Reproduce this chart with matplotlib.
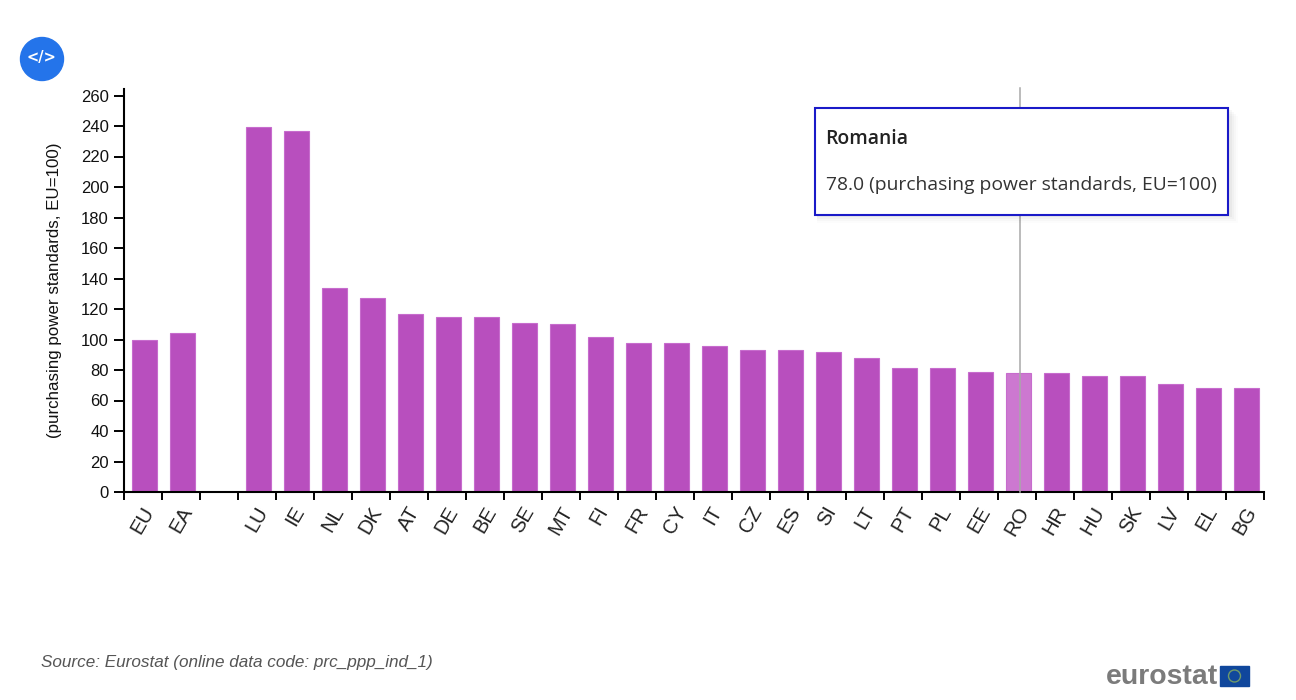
import matplotlib
matplotlib.use("Agg")
import matplotlib.pyplot as plt
from matplotlib.patches import Rectangle, Circle

W, H = 1296, 700

# data
codes = ["EU", "EA", "", "LU", "IE", "NL", "DK", "AT", "DE", "BE", "SE", "MT", "FI", "FR", "CY",
         "IT", "CZ", "ES", "SI", "LT", "PT", "PL", "EE", "RO", "HR", "HU", "SK", "LV", "EL", "BG"]
values = [100, 104, 0, 239.5, 237, 134, 127, 117, 115, 115, 110.5, 110, 101.5, 98, 98,
          96, 93, 93, 92, 88, 81.5, 81.5, 79, 78, 78, 76, 76, 71, 68, 68]
y_ticks = list(range(0, 261, 20))
highlight = "RO"
tip_title = "Romania"
tip_text = "78.0 (purchasing power standards, EU=100)"
y_title = "(purchasing power standards, EU=100)"
source = "Source: Eurostat (online data code: prc_ppp_ind_1)"


def px(x, y):
    # page pixels to figure fraction
    return x / W, 1 - y / H


plt.rcParams["font.family"] = ["Liberation Sans", "DejaVu Sans"]
fig = plt.figure(figsize=(W / 100, H / 100), dpi=100)

# plot area
left, right, top, bottom = 124, 1264, 89, 492
ax = fig.add_axes([left / W, 1 - bottom / H, (right - left) / W, (bottom - top) / H])

for i, (c, v) in enumerate(zip(codes, values)):
    if c == "":
        continue
    col = "#cc78d0" if c == highlight else "#b84fbe"
    ax.bar(i + 0.55, v, width=0.66, color=col, edgecolor="#c76ccd", linewidth=0.8, zorder=2)

ax.set_xlim(0, len(codes))
ax.set_ylim(0, (bottom - top) / 1.525)
ax.set_yticks(y_ticks)
ax.set_xticks(range(len(codes) + 1))
ax.set_xticklabels([])
ax.tick_params(axis="y", length=7, width=1.4, labelsize=12, pad=4, labelcolor="#111111")
ax.tick_params(axis="x", length=6, width=1.4)
for s in ["top", "right"]:
    ax.spines[s].set_visible(False)
for s in ["left", "bottom"]:
    ax.spines[s].set_linewidth(1.5)
ax.spines["bottom"].set_bounds(0, len(codes))

# rotated country codes
for i, c in enumerate(codes):
    if c:
        ax.annotate(c, (i + 0.5, 0), xytext=(0, -8), textcoords="offset points", fontsize=14.5,
                    rotation=60, ha="center", va="top", rotation_mode="default", color="#222222")

fig.text(*px(55, 290), y_title, rotation=90, ha="center", va="center", fontsize=12.2, color="#111111")

# hover line
fig.add_artist(plt.Line2D([1019.5 / W, 1019.5 / W], [1 - 492 / H, 1 - 88 / H], color="#a8a8a8", lw=1.1, zorder=5))

# tooltip, soft shadow first
bx, by, bw, bh = 815, 108, 413, 107
for off, a in [(8, 0.012), (6, 0.018), (4, 0.022), (2, 0.03)]:
    fig.add_artist(Rectangle(px(bx + 2, by + bh + off), (bw + off) / W, bh / H, transform=fig.transFigure,
                             facecolor="black", edgecolor="none", alpha=a, zorder=6))
fig.add_artist(Rectangle(px(bx, by + bh), bw / W, bh / H, transform=fig.transFigure, facecolor="white",
                         edgecolor="#1a1ac8", linewidth=1.5, zorder=7))
fig.text(*px(825.5, 139), tip_title, fontsize=13.85, fontweight="semibold", family=["Open Sans", "DejaVu Sans"],
         va="center", color="#222222", zorder=8)
fig.text(*px(825.5, 185), tip_text, fontsize=13.85, family=["Open Sans", "DejaVu Sans"],
         va="center", color="#333333", zorder=8)

# source
fig.text(*px(41, 662), source, fontsize=12.35, style="italic", va="center", color="#555555")

# code button
bg = fig.add_axes([0, 0, 1, 1], zorder=-1)
bg.set_xlim(0, W)
bg.set_ylim(H, 0)
bg.set_aspect("equal")
bg.axis("off")
bg.add_patch(Circle((42, 59), 21.5, color="#2474ea"))
bg.text(41.5, 57.5, "</>", color="white", fontsize=10.5, ha="center", va="center", fontweight="bold",
        family=["DejaVu Sans"])

# eurostat logo
bg.text(1106, 677, "eurostat", color="#7b7b7b", fontsize=20.4, fontweight="bold", ha="left", va="center")
bg.add_patch(Rectangle((1220, 666), 29, 20, color="#10479c"))
bg.add_patch(Circle((1234.5, 676), 6, facecolor="none", edgecolor="#6f9a6a", linewidth=1))

fig.savefig("out.png", dpi=100, facecolor="white")
